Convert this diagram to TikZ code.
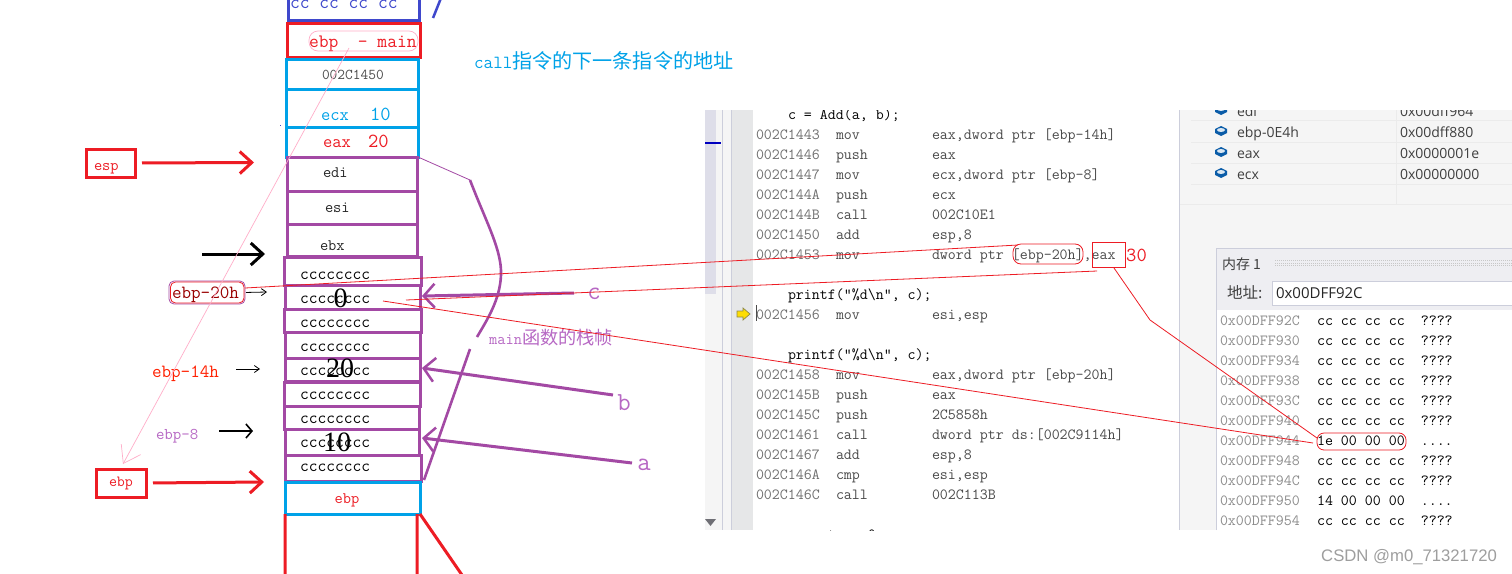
\documentclass[tikz,border=0pt]{standalone}
\usepackage{fontspec}
\usetikzlibrary{arrows.meta}
\newfontfamily\cjk{Noto Sans CJK SC}
\newfontfamily\uisans{Open Sans}
\newfontfamily\wmsans{Liberation Sans}
\newfontfamily\numf{Liberation Serif}
\definecolor{rd}{HTML}{ED1C24}
\definecolor{bl}{HTML}{00A2E8}
\definecolor{pu}{HTML}{A349A4}
\definecolor{indg}{HTML}{3F48CC}
\definecolor{pk}{HTML}{FFAEC9}
\definecolor{lpu}{HTML}{B768C4}
\definecolor{bord}{HTML}{CCCEDB}
\definecolor{panel}{HTML}{F5F5F5}
\definecolor{strip}{HTML}{DEDEE9}
\definecolor{band}{HTML}{E6E7E8}
\definecolor{addrc}{HTML}{6E6E6E}
\definecolor{opc}{HTML}{4A4A4A}
\definecolor{memaddr}{HTML}{8C8C8C}
\definecolor{hdr}{HTML}{EEEEF2}
\definecolor{icon}{HTML}{0A5CA8}
\newcommand\fourdots{.{}.{}.{}.}
\newcommand\boxnode[6]{%
  \pgfmathsetmacro\bw{#5-#3}\pgfmathsetmacro\bh{#6-#4}%
  \pgfmathsetmacro\bx{(#3+#5)/2}\pgfmathsetmacro\by{(#4+#6)/2}%
  \node[#2,minimum width=\bw pt,minimum height=\bh pt] (#1) at (\bx,\by) {};}
\tikzset{
  x=1pt,y=-1pt,
  cell/.style={draw,inner sep=0pt,outer sep=0pt,rectangle},
  tx/.style={inner sep=0pt,outer sep=0pt,anchor=base west,font=\ttfamily\fontsize{#1}{#1}\selectfont},
  tx/.default=15.5,
  ctx/.style={inner sep=0pt,outer sep=0pt,anchor=base,font=\ttfamily\fontsize{#1}{#1}\selectfont},
  numtx/.style={inner sep=0pt,outer sep=0pt,anchor=base,text=black,font=\numf\fontsize{28}{28}\selectfont},
  ui/.style={inner sep=0pt,outer sep=0pt,anchor=base west,text=black!75,font=\uisans\fontsize{#1}{#1}\selectfont},
  bigarrow/.style={line width=3pt,-{Straight Barb[length=12pt,width=22pt,line width=3pt]}},
  thinarrow/.style={line width=.8pt,-{Straight Barb[length=5pt,width=7pt,line width=.8pt]}},
  thinred/.style={draw=rd,line width=.8pt},
  purplearrow/.style={draw=pu,line width=3pt,-{Straight Barb[length=11pt,width=24pt,line width=2.5pt]}},
}
\begin{document}
\begin{tikzpicture}
\useasboundingbox (0,0) rectangle (1512,573);
\fill[white] (0,0) rectangle (1512,573);
% ---------- screenshot ----------
\begin{scope}
\clip (705,110) rectangle (1512,530);
\fill[panel] (705,110) rectangle (753,530);
\fill[strip] (705,110) rectangle (716,294);
\fill[band] (731,110) rectangle (753,530);
\draw[bord,line width=.8pt] (722,110) -- (722,530) (731,110) -- (731,530);
\fill[blue!75!black] (705,142) rectangle (721,144);
\fill[black!50!strip] (705,519) -- (716,519) -- (710.5,526) -- cycle;
\draw[fill=yellow!80!orange,draw=black!50!yellow,line width=.7pt] (737,311) -- (743,311) -- (743,308) -- (750,314) -- (743,320) -- (743,317) -- (737,317) -- cycle;
\draw[black!70,line width=1pt] (756,305) -- (756,321);
\node[tx,text=black] (srcA) at (788,119) {c = Add(a, b);};
\node[tx,text=black] (srcB) at (788,299) {printf("\%d\textbackslash n", c);};
\node[tx,text=black] (srcC) at (788,359) {printf("\%d\textbackslash n", c);};
\node[tx,text=black] (srcD) at (812,539) {return 0;};
\foreach \y/\a/\m/\o in {
  139/002C1443/mov/{eax,dword ptr [ebp-14h]},
  159/002C1446/push/eax,
  179/002C1447/mov/{ecx,dword ptr [ebp-8]},
  199/002C144A/push/ecx,
  219/002C144B/call/002C10E1,
  239/002C1450/add/{esp,8},
  259/002C1453/mov/{dword ptr [ebp-20h],eax},
  319/002C1456/mov/{esi,esp},
  379/002C1458/mov/{eax,dword ptr [ebp-20h]},
  399/002C145B/push/eax,
  419/002C145C/push/2C5858h,
  439/002C1461/call/{dword ptr ds:[002C9114h]},
  459/002C1467/add/{esp,8},
  479/002C146A/cmp/{esi,esp},
  499/002C146C/call/002C113B}{
  \node[tx,text=addrc] (ad\y) at (756,\y) {\a};
  \node[tx,text=opc] (mn\y) at (836,\y) {\m};
  \node[tx,text=opc] (op\y) at (932,\y) {\o};
}
% right panel
\fill[panel] (1180,110) rectangle (1512,530);
\draw[bord,line width=.8pt] (1179.5,110) -- (1179.5,530);
\draw[black!8,line width=.7pt] (1191,120.5) -- (1512,120.5) (1191,142) -- (1512,142) (1191,163) -- (1512,163) (1191,184) -- (1512,184) (1180,204.5) -- (1512,204.5) (1396,110) -- (1396,204);
\foreach \y/\n/\v in {116/edi/0x00dff964,137/ebp-0E4h/0x00dff880,158/eax/0x0000001e,179/ecx/0x00000000}{
  \node[ui=14] (rn\y) at (1237,\y) {\n};
  \node[ui=14] (rv\y) at (1400,\y) {\v};
  \pgfmathsetmacro\iy{\y-6}
  \fill[icon] (1215,\iy-2) -- (1221,\iy-5) -- (1227,\iy-2) -- (1227,\iy+2) -- (1221,\iy+5) -- (1215,\iy+2) -- cycle;
  \fill[white!85!icon] (1221,\iy-1) ellipse [x radius=4,y radius=2];
}
% memory window
\fill[hdr] (1216.5,248.5) rectangle (1512,310);
\fill[white] (1217,310) rectangle (1512,530);
\draw[bord,line width=1pt] (1216.5,530) -- (1216.5,248.5) -- (1512,248.5);
\node[ui=14,font=\cjk\fontsize{14}{14}\selectfont] (memT) at (1222,269) {内存 1};
\foreach \y in {260.5,263,265.5}{
  \draw[black!22,line width=1pt,dash pattern=on 1pt off 1pt] (1275,\y) -- (1512,\y);
}
\node[ui=15,font=\cjk\fontsize{15.5}{15.5}\selectfont] (memL) at (1227,298) {地址:};
\boxnode{addrbox}{cell,draw=bord,fill=white,line width=.8pt}{1272}{281}{1513}{305.5}
\node[ui=15,text=black!85] (addrT) at (1276,298.5) {0x00DFF92C};
\foreach \y/\a/\d in {
  325/0x00DFF92C/cc cc cc cc~~????,
  345/0x00DFF930/cc cc cc cc~~????,
  365/0x00DFF934/cc cc cc cc~~????,
  385/0x00DFF938/cc cc cc cc~~????,
  405/0x00DFF93C/cc cc cc cc~~????,
  425/0x00DFF940/cc cc cc cc~~????,
  445/0x00DFF944/1e 00 00 00~~\fourdots,
  465/0x00DFF948/cc cc cc cc~~????,
  485/0x00DFF94C/cc cc cc cc~~????,
  505/0x00DFF950/14 00 00 00~~\fourdots,
  525/0x00DFF954/cc cc cc cc~~????}{
  \node[tx,text=memaddr] (ma\y) at (1220,\y) {\a};
  \node[tx,text=black] (md\y) at (1317,\y) {\d};
}
\end{scope}
% ---------- stack ----------
\boxnode{top}{cell,draw=indg,line width=3pt}{288}{-10}{419.5}{20}
\boxnode{mainbp}{cell,draw=rd,line width=3pt}{287}{23}{420}{57}
\boxnode{ret}{cell,draw=bl,line width=3pt}{286}{59}{418}{89}
\boxnode{ecxb}{cell,draw=bl,line width=3pt}{286}{89}{418}{127}
\boxnode{eaxb}{cell,draw=bl,line width=3pt}{286}{127}{418}{157}
\boxnode{edib}{cell,draw=pu,line width=3pt}{287}{157}{417}{191}
\boxnode{esib}{cell,draw=pu,line width=3pt}{287}{191}{417}{224}
\boxnode{ebxb}{cell,draw=pu,line width=3pt}{287}{224}{417}{256}
\boxnode{c1}{cell,draw=pu,line width=3pt}{284}{257}{421}{285}
\boxnode{c2}{cell,draw=pu,line width=3pt}{285}{285}{420}{309}
\boxnode{c3}{cell,draw=pu,line width=3pt}{284}{309}{421}{332}
\boxnode{c4}{cell,draw=pu,line width=3pt}{285}{332}{420}{358}
\boxnode{c5}{cell,draw=pu,line width=3pt}{285}{358}{420}{381}
\boxnode{c6}{cell,draw=pu,line width=3pt}{284}{382}{420}{406}
\boxnode{c7}{cell,draw=pu,line width=3pt}{284}{406}{419}{429}
\boxnode{c8}{cell,draw=pu,line width=3pt}{285}{429}{419}{455}
\boxnode{c9}{cell,draw=pu,line width=3pt}{285}{455}{421}{481}
\boxnode{bpb}{cell,draw=bl,line width=3pt}{285}{482}{420}{514}
\coordinate (st1) at (285,514); \coordinate (st1e) at (285,575);
\coordinate (st2) at (417,514); \coordinate (st2e) at (417,575);
\coordinate (st3) at (420,514); \coordinate (st3e) at (462,575);
\draw[rd,line width=3pt] (st1) -- (st1e) (st2) -- (st2e) (st3) -- (st3e);
\coordinate (sl1) at (433,18); \coordinate (sl2) at (441,-2);
\draw[indg,line width=2.5pt] (sl1) -- (sl2);
\fill[indg] (280,124.5) rectangle (281.2,126);
% stack texts
\node[tx=19,text=indg] (tTop) at (290,8) {cc cc cc cc};
\node[tx=19,text=rd] (tMain) at (309,47) {ebp~~- main};
\node[tx=15,text=black!70] (tRet) at (322,79) {002C1450};
\node[tx=18,text=bl] (tEcx) at (321,120) {ecx};
\node[tx=20,text=bl] (tEcxV) at (370,120) {10};
\node[tx=18,text=rd] (tEax) at (323,147) {eax};
\node[tx=20,text=rd] (tEaxV) at (368,147) {20};
\node[tx=16,text=black!85] (tEdi) at (323,177) {edi};
\node[tx=16,text=black!85] (tEsi) at (325,212) {esi};
\node[tx=16,text=black!85] (tEbx) at (320,250) {ebx};
\foreach \y in {279,303,327,351,375,399,423,447,471}{
  \node[tx=17,text=black] (cc\y) at (300,\y) {cccccccc};
}
\node[ctx=16,text=rd] (tBp) at (347,503) {ebp};
\node[numtx] (v0) at (340.5,307) {0};
\node[numtx] (v20) at (340,377) {20};
\node[numtx] (v10) at (337,451) {10};
% left labels
\boxnode{espbox}{cell,draw=rd,line width=3pt}{86}{149}{135}{177}
\node[tx=16,text=rd] (tEsp) at (94,170) {esp};
\boxnode{ebpbox}{cell,draw=rd,line width=3pt}{96}{469}{146}{497}
\node[tx=15.5,text=rd] (tEbpb) at (109,486) {ebp};
\boxnode{e20o}{cell,rounded corners=5pt,draw=pu,line width=.8pt}{169}{281}{245}{304}
\boxnode{e20}{cell,rounded corners=5pt,draw=rd,line width=.8pt}{170.5}{282}{244}{303}
\node[tx=18.6,text=red!60!black] (tE20) at (172,298) {ebp-20h};
\node[tx=18.6,text=red!75!orange] (tE14) at (152,377) {ebp-14h};
\node[tx=16.4,text=lpu] (tE8) at (156,439) {ebp-8};
\coordinate (arEsp) at (254,162.5); \coordinate (arBlk) at (265,254); \coordinate (arBlk0) at (202,254);
\coordinate (arEbp) at (264,482); \coordinate (ar20) at (267,292); \coordinate (ar14) at (260,369); \coordinate (ar14s) at (236,369);
\coordinate (ar8) at (253,431); \coordinate (ar8s) at (219,431);
\draw[rd,bigarrow,shorten <=7pt] (espbox.east) -- (arEsp);
\draw[rd,bigarrow,shorten <=7pt] (ebpbox.east) -- (arEbp);
\draw[black,bigarrow] (arBlk0) -- (arBlk);
\draw[black,thinarrow,shorten <=2pt] (e20.east) -- (ar20);
\draw[black,thinarrow] (ar14s) -- (ar14);
\draw[black,line width=2pt,-{Straight Barb[length=6pt,width=14pt,line width=1.6pt]}] (ar8s) -- (ar8);
% main frame brace
\coordinate (brA) at (418,157); \coordinate (brB) at (470,180);
\coordinate (brC) at (477,337); \coordinate (brD) at (470,349); \coordinate (brE) at (424,480);
\draw[pu,line width=.8pt] (brA) -- (brB);
\draw[pu,line width=2.6pt] (brB) .. controls (486,222) and (502,250) .. (501,275) .. controls (500,300) and (487,320) .. (brC);
\draw[pu,line width=2.6pt] (brD) -- (brE);
\node[inner sep=0pt,anchor=base west,text=lpu,font=\ttfamily\fontsize{16}{16}\selectfont] (tMainF) at (489,344) {main{\cjk\fontsize{18.2}{18.2}\selectfont 函数的栈帧}};
% purple arrows
\coordinate (cS) at (574,293); \coordinate (cT) at (422,296);
\coordinate (bS) at (613,395); \coordinate (bT) at (422,368);
\coordinate (aS) at (632,463); \coordinate (aT) at (422,438);
\draw[purplearrow] (cS) -- (cT);
\draw[purplearrow] (bS) -- (bT);
\draw[purplearrow] (aS) -- (aT);
\node[ctx=26,text=lpu] (tC) at (594,299) {c};
\node[ctx=26,text=lpu] (tB) at (624,410) {b};
\node[ctx=26,text=lpu] (tA) at (644,470) {a};
% heading
\node[inner sep=0pt,anchor=base west,text=bl,font=\ttfamily\fontsize{18.5}{18.5}\selectfont] (tCall) at (474,68) {call{\cjk\fontsize{20.1}{20.1}\selectfont 指令的下一条指令的地址}};
% pink
\boxnode{pkE}{cell,rounded corners=9pt,draw=pk,line width=.7pt}{309}{31}{418}{51}
\coordinate (pkS) at (349,48); \coordinate (pkT) at (123,464);
\draw[pk,line width=.7pt,-{Straight Barb[length=16pt,width=22pt,line width=.7pt]}] (pkS) -- (pkT);
% red annotations
\boxnode{ell}{cell,rounded corners=8pt,draw=rd,line width=.8pt}{1013}{244}{1083}{264}
\boxnode{eaxr}{cell,draw=rd,line width=.8pt}{1092}{242}{1125}{267}
\boxnode{mem1e}{cell,rounded corners=7pt,draw=rd,line width=.8pt}{1317}{433}{1406}{450}
\node[inner sep=0pt,anchor=base west,text=rd,font=\ttfamily\fontsize{20}{20}\selectfont] (t30) at (1126,261) {30};
\coordinate (l1a) at (245,288); \coordinate (l1b) at (1018,245); \coordinate (l2a) at (406,300); \coordinate (l2b) at (1097,271);
\coordinate (l3a) at (383,301); \coordinate (l3b) at (1313,443);
\coordinate (l4m) at (1150,320); \coordinate (l4e) at (1317,438); \coordinate (l4s) at (1114,268);
\draw[thinred] (l1a) -- (l1b);
\draw[thinred] (l2a) -- (l2b);
\draw[thinred] (l3a) -- (l3b);
\draw[thinred] (l4s) -- (l4m) -- (l4e);
% watermark
\node[inner sep=0pt,anchor=base west,text=black!38,font=\wmsans\fontsize{16.7}{16.7}\selectfont] (wm) at (1321,561) {CSDN @m0\_71321720};
\end{tikzpicture}
\end{document}
